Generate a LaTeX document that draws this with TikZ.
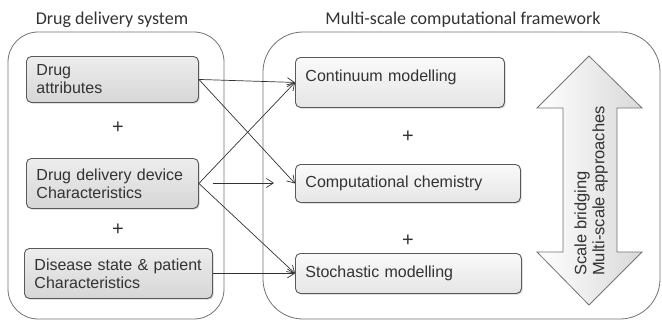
\documentclass[tikz,border=0pt]{standalone}
\usepackage{fontspec}
\setmainfont{Liberation Sans}
\newfontfamily\titlefont{Carlito}
\usetikzlibrary{arrows.meta,shadows}
\begin{document}
\begin{tikzpicture}[x=1pt,y=-1pt,
  container/.style={draw=black!55, line width=0.8pt, rounded corners=30pt},
  lbox/.style={draw=black!65, line width=0.9pt, rounded corners=5pt,
    top color=gray!14, bottom color=gray!32,
    drop shadow={shadow xshift=1.2pt, shadow yshift=-1.2pt, opacity=0.35},
    anchor=north west, inner xsep=10pt, inner ysep=0pt, align=left,
    font=\fontsize{16}{18}\selectfont, text=black!80},
  rbox/.style={lbox, top color=gray!4, bottom color=gray!20},
  plus/.style={font=\fontsize{20}{22}\selectfont, text=black!80},
  conn/.style={draw=black!80, line width=0.7pt, -{Straight Barb[length=7pt,width=9pt]}},
  title/.style={font=\titlefont\fontsize{18}{20}\selectfont, text=black!80},
  bigarrow/.style={draw=black!55, line width=0.8pt, left color=white, right color=gray!30},
  arrowtext/.style={font=\fontsize{16.5}{18}\selectfont, text=black!80, align=left, rotate=90, inner sep=0pt}
]
\useasboundingbox (0,0) rectangle (662,322);
\fill[white] (0,0) rectangle (662,322);

% titles
\node[title] (t1) at (112,20) {Drug delivery system};
\node[title] (t2) at (463,20) {Multi-scale computational framework};

% containers
\draw[container] (8,32) rectangle (224,319);
\draw[container, rounded corners=40pt] (263,32) rectangle (660,319);

% left boxes
\node[lbox, text width=152pt, minimum height=46pt] (da) at (26,56) {Drug\\attributes};
\node[lbox, text width=152pt, minimum height=50pt] (dd) at (26,158) {Drug delivery device\\Characteristics};
\node[lbox, text width=168pt, minimum height=50pt] (ds) at (24,248) {Disease state \& patient\\Characteristics};

% right boxes
\node[rbox, text width=189pt, minimum height=50pt, text depth=14pt] (cm) at (295,57) {Continuum modelling};
\node[rbox, text width=205pt, minimum height=38pt] (cc) at (295,164) {Computational chemistry};
\node[rbox, text width=206pt, minimum height=40pt] (sm) at (295,253) {Stochastic modelling};

% plus signs
\node[plus] (p1) at (118,128) {+};
\node[plus] (p2) at (118,230) {+};
\node[plus] (p3) at (408,137) {+};
\node[plus] (p4) at (408,241) {+};

% connectors
\draw[conn] (da.east) -- (cm.west);
\draw[conn] (da.east) -- (cc.west);
\draw[conn] (dd.east) -- (cm.west);
\draw[conn] (dd.east) -- (sm.west);
\draw[conn] (ds.east) -- (sm.west);
\coordinate (s1) at (213,183);
\coordinate (s2) at (274,183);
\draw[conn] (s1) -- (s2);

% big double arrow
\draw[bigarrow] (589,56) -- (642,108) -- (617,108) -- (617,252) -- (642,252)
  -- (589,305) -- (537,252) -- (563,252) -- (563,108) -- (537,108) -- cycle;
\node[arrowtext, anchor=west] (sb) at (591,276) {Scale bridging\\Multi-scale approaches};
\end{tikzpicture}
\end{document}
